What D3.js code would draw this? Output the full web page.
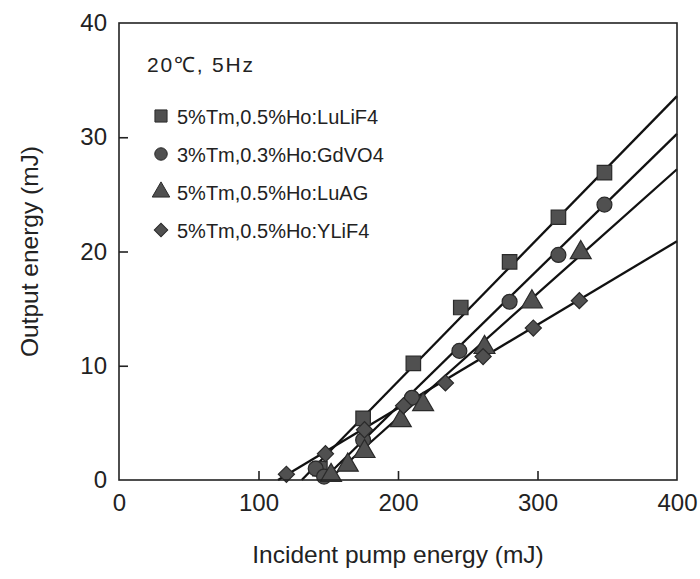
<!DOCTYPE html>
<html><head><meta charset="utf-8">
<script src="https://cdn.jsdelivr.net/npm/d3@7"></script>
<style>body{margin:0;background:#fff}svg{display:block}text{font-family:"Liberation Sans",Arial,sans-serif;fill:#222}</style>
</head><body><div id="chart"></div>
<script>
const seriesNames = ["5%Tm,0.5%Ho:LuLiF4","3%Tm,0.3%Ho:GdVO4","5%Tm,0.5%Ho:LuAG","5%Tm,0.5%Ho:YLiF4"];
const seriesSymbols = ["square","circle","triangle","diamond"];
const luLiF4 = [[144,1.0],[175,5.4],[211,10.2],[245,15.1],[280,19.1],[315,23.0],[348,26.9]];
const gdVO4  = [[141,1.0],[147,0.3],[175,3.5],[210,7.2],[244,11.3],[280,15.6],[315,19.7],[348,24.1]];
const luAG   = [[152,0.4],[164,1.3],[176,2.5],[202,5.2],[218,6.6],[262,11.6],[296,15.6],[331,19.9]];
const yLiF4  = [[120,0.5],[148,2.3],[176,4.4],[204,6.5],[234,8.5],[261,10.8],[297,13.3],[330,15.7]];
// fitted lines: [threshold x, 0], [400, y]
const fitLuLiF4 = [[131,0],[400,33.6]];
const fitGdVO4  = [[146,0],[400,30.3]];
const fitLuAG   = [[150,0],[400,27.2]];
const fitYLiF4  = [[114,0],[400,20.9]];
const xTicks = [0,100,200,300,400];
const yTicks = [0,10,20,30,40];
const annotation = "20\u2103, 5Hz";
const xTitle = "Incident pump energy (mJ)";
const yTitle = "Output energy (mJ)";

const data = [luLiF4, gdVO4, luAG, yLiF4];
const fits = [fitLuLiF4, fitGdVO4, fitLuAG, fitYLiF4];

const W = 700, H = 579;
const m = {l:119, r:23, t:23, b:99};
const svg = d3.select("#chart").append("svg").attr("width",W).attr("height",H);
const x = d3.scaleLinear().domain([0,400]).range([m.l, W-m.r]);
const y = d3.scaleLinear().domain([0,40]).range([H-m.b, m.t]);

const symType = {square:d3.symbolSquare, circle:d3.symbolCircle, triangle:d3.symbolTriangle, diamond:d3.symbolSquare};
const symSize = {square:210, circle:175, triangle:190, diamond:130};
const symRot = {square:0, circle:0, triangle:0, diamond:45};

// fit lines
const line = d3.line().x(d=>x(d[0])).y(d=>y(d[1]));
svg.append("g").selectAll("path").data(fits).join("path")
  .attr("d", line).attr("fill","none").attr("stroke","#111").attr("stroke-width",2.3);

// points
data.forEach((ser,i)=>{
  const s = seriesSymbols[i];
  svg.append("g").selectAll("path").data(ser).join("path")
    .attr("transform", d=>`translate(${x(d[0])},${y(d[1])}) rotate(${symRot[s]})`)
    .attr("d", d3.symbol().type(symType[s]).size(symSize[s]))
    .attr("fill","#505050").attr("stroke","#2a2a2a").attr("stroke-width",1.2);
});

// frame
svg.append("rect").attr("x",m.l).attr("y",m.t).attr("width",W-m.r-m.l).attr("height",H-m.b-m.t)
  .attr("fill","none").attr("stroke","#222").attr("stroke-width",1.6);

// axes (inside ticks)
const xAxis = svg.append("g").attr("transform",`translate(0,${H-m.b})`)
  .call(d3.axisBottom(x).tickValues(xTicks).tickSize(-9).tickPadding(14));
const yAxis = svg.append("g").attr("transform",`translate(${m.l},0)`)
  .call(d3.axisLeft(y).tickValues(yTicks).tickSize(-9).tickPadding(12));
[xAxis,yAxis].forEach(a=>{
  a.select(".domain").remove();
  a.selectAll(".tick line").attr("stroke","#222").attr("stroke-width",1.6);
  a.selectAll(".tick text").attr("font-size",24).attr("fill","#222")
   .style("font-family","'Liberation Sans',Arial,sans-serif");
});
xAxis.selectAll(".tick").filter(d=>d===0||d===400).select("line").remove();
yAxis.selectAll(".tick").filter(d=>d===0||d===40).select("line").remove();

// titles
svg.append("text").attr("x",(m.l+W-m.r)/2).attr("y",563).attr("text-anchor","middle")
  .attr("font-size",24.5).text(xTitle);
svg.append("text").attr("transform",`translate(38,${(m.t+H-m.b)/2}) rotate(-90)`)
  .attr("text-anchor","middle").attr("font-size",24.5).text(yTitle);

// annotation
svg.append("text").attr("x",147).attr("y",72).attr("font-size",21)
  .attr("letter-spacing",1.8).text(annotation);

// legend
const lg = svg.append("g");
seriesNames.forEach((n,i)=>{
  const yy = 116 + i*38;
  const s = seriesSymbols[i];
  lg.append("path").attr("transform",`translate(161,${yy}) rotate(${symRot[s]})`)
    .attr("d", d3.symbol().type(symType[s]).size(symSize[s]*0.7))
    .attr("fill","#505050").attr("stroke","#2a2a2a").attr("stroke-width",1);
  lg.append("text").attr("x",177).attr("y",yy+7.5).attr("font-size",20)
    .text(n);
});
</script></body></html>
